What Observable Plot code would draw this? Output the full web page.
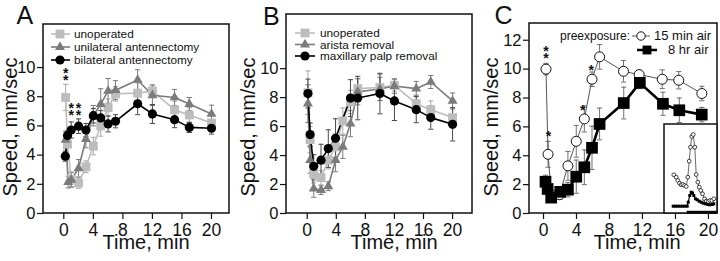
<!DOCTYPE html>
<html><head><meta charset="utf-8">
<script src="https://cdn.jsdelivr.net/npm/d3@7"></script>
<script src="https://cdn.jsdelivr.net/npm/@observablehq/plot@0.6"></script>
<style>
body{margin:0;background:#fff;}
#wrap{position:relative;width:720px;height:261px;overflow:hidden;font-family:"Liberation Sans",Arial,sans-serif;}
.pn{position:absolute;top:0;width:240px;height:261px;}
g[aria-label="x-axis tick label"]{font-size:17.5px;font-family:"Liberation Sans",Arial,sans-serif;fill:#111;}
g[aria-label="y-axis tick label"]{font-size:16.5px;font-family:"Liberation Sans",Arial,sans-serif;fill:#111;}
</style></head>
<body>
<div id="wrap">
  <div class="pn" id="pA" style="left:0"></div>
  <div class="pn" id="pB" style="left:240px"></div>
  <div class="pn" id="pC" style="left:480px"></div>
  <div id="pI" style="position:absolute;left:664px;top:124px;width:53px;height:89px;"></div>
</div>
<script>
// ---------- DATA ----------
// Panel A
const tA_unop = [0.25,0.5,1,2,3,4,5,6,7,10,12,15,17,20];
const A_unop  = [7.95,4.75,2.35,2.08,3.2,4.62,6.0,7.25,8.2,8.25,8.4,7.1,6.75,6.2];
const A_unopE = [0.9,0.8,0.5,0.35,0.4,0.6,0.7,0.6,0.5,0.7,0.4,0.6,0.5,0.5];
const tA_uni  = [0.25,0.6,1,2,3,4,5,6,7,10,12,15,17,20];
const A_uni   = [5.05,2.15,2.3,3.1,5.1,6.7,7.5,8.4,8.45,9.15,8.1,7.95,7.5,6.82];
const A_uniE  = [0.6,0.4,0.5,0.6,0.6,0.7,1.05,0.85,0.65,0.7,0.7,0.55,0.45,0.6];
const tA_bi   = [0.2,0.5,1,2,3,4,5,6,7,10,12,15,17,20];
const A_bi    = [3.93,5.35,5.72,5.98,5.72,6.7,6.55,6.14,6.32,7.52,6.82,6.43,5.9,5.84];
const A_biE   = [0.35,0.3,0.55,0.5,0.45,0.5,0.5,0.55,0.45,0.75,0.65,0.55,0.35,0.4];
// significance marks (time, speed, number of asterisks)
const starsA_t = [0.25,1,2];
const starsA_y = [9.49,7.05,7.05];
const starsA_n = [2,2,2];
// Panel B
const tB      = [0.1,0.4,0.9,1.9,2.9,3.9,4.9,5.95,6.95,10,12,15,17,20];
const B_unop  = [8.34,5.1,2.71,2.48,3.68,4.6,6.39,7.7,8.62,8.7,8.85,7.58,7.17,6.62];
const B_unopE = [1.5,0.9,0.6,0.5,0.6,0.9,0.9,0.8,0.7,0.9,0.4,0.6,0.6,0.7];
const B_ari   = [7.59,3.68,1.72,1.61,1.88,3.68,4.6,6.2,8.4,8.6,8.8,8.62,9.08,7.77];
const B_ariE  = [1.3,0.9,0.6,0.3,0.3,0.8,0.8,0.9,0.9,0.8,0.5,0.5,0.45,0.55];
const tB_palp = [0.1,0.4,0.9,1.9,2.9,3.9,5.95,6.95,10,12,15,17,20];
const B_palp  = [8.28,5.45,3.26,3.68,4.48,5.19,7.97,7.97,8.28,7.77,7.17,6.62,6.16];
const B_palpE = [1.0,0.8,0.8,1.1,1.3,1.35,1.27,1.5,1.4,1.35,0.9,0.8,1.15];
// Panel C
const tC_15   = [0.3,0.55,0.95,1.95,2.96,3.97,4.95,5.88,6.8,9.7,11.6,14.4,16.4,19.2];
const C_15    = [10.0,4.1,1.3,1.3,3.3,5.0,6.55,9.3,10.85,9.85,9.62,9.3,9.23,8.31];
const C_15E   = [0.4,0.9,0.3,0.3,1.0,1.1,0.9,0.5,0.85,0.75,0.3,0.65,0.6,0.5];
const tC_8    = [0.24,0.5,0.93,2.03,2.96,3.97,4.95,5.88,6.8,9.73,11.68,14.48,16.47,19.19];
const C_8     = [2.2,1.7,1.1,1.5,1.65,2.55,3.2,4.55,6.2,7.65,9.05,7.6,7.15,6.85];
const C_8E    = [0.45,0.3,0.2,0.25,0.5,1.15,1.2,1.5,1.1,1.1,0.4,0.8,0.85,0.5];
const starsC_t = [0.29,0.61,4.75,5.77];
const starsC_y = [11.08,5.42,7.27,10.04];
const starsC_n = [2,1,1,1];
// Inset (arbitrary units)
const inT15 = [9.3,11.7,13.3,15,16.7,18.3,20,21.7,23.3,24.7,26,27.3,28.7,30.3,31.7,33.3,34.7,36.3,38,40,41.7,43.7,45.3,47.3,49.3];
const inV15 = [38.7,36.3,33,30.3,28.7,29,28,27,36.3,52.3,66.3,77,79,66.3,39,31.3,26.3,23,19.7,14.7,12.3,12,13,13,14.7];
const inT8  = [8.7,11,13.3,15.7,18,20.3,22.7,23.7,25.3,26.7,28,29.3,31,32.7,34.7,36.7,38.7,41,43.3,45.3,47.7,49.3];
const inV8  = [7.3,7.3,7.3,7.3,7.3,7.3,7.3,11.3,18,21.3,20.5,18,14.7,13.7,12.3,11.3,10.3,9.7,9,8.7,9,9.7];
const inBar = [22.7,53];
// Ticks & labels
const xTicks = [0,4,8,12,16,20];
const yTicksAB = [0,2,4,6,8,10];
const yTicksC = [0,2,4,6,8,10,12];
const legA = ["unoperated","unilateral antennectomy","bilateral antennectomy"];
const legB = ["unoperated","arista removal","maxillary palp removal"];
const legC = ["15 min air","8 hr air"];

// ---------- HELPERS ----------
const FONT = "'Liberation Sans', Arial, sans-serif";
const cap = {draw(ctx, size){ const w = Math.sqrt(size/Math.PI); ctx.moveTo(-w,0); ctx.lineTo(w,0); }};
function rows(t,v,e){ return t.map((d,i)=>({t:d, v:v[i], e:e[i]})); }
function barMarks(d, color){
  return [
    Plot.ruleX(d,{x:"t",y1:r=>r.v-r.e,y2:r=>r.v+r.e,stroke:color,strokeWidth:1}),
    Plot.dot(d,{x:"t",y:r=>r.v+r.e,symbol:cap,r:2.6,stroke:color,strokeWidth:1,fill:"none"}),
    Plot.dot(d,{x:"t",y:r=>r.v-r.e,symbol:cap,r:2.6,stroke:color,strokeWidth:1,fill:"none"})
  ];
}
function stars(t,y,n){
  return Plot.text(t.map((d,i)=>({t:d,y:y[i],n:n[i]})),
    {x:"t",y:"y",text:d=>Array(d.n).fill("*").join("\n"),lineHeight:0.5,fontSize:14,fontWeight:"bold",fill:"#111",dy:4});
}
function addFrame(svg, x, y, w, h){
  d3.select(svg).append("rect").attr("x",x).attr("y",y).attr("width",w).attr("height",h)
    .attr("fill","none").attr("stroke","#111").attr("stroke-width",1.5);
}
function makePanel(opts){
  const {ml,mr,mt,mb,xd,yd,yticks,series,extra} = opts;
  const bars=[], lines=[], dots=[];
  for (const s of series){
    const d = rows(s.t,s.v,s.e);
    bars.push(...barMarks(d,s.bar));
    lines.push(Plot.line(d,{x:"t",y:"v",stroke:s.line,strokeWidth:s.lw}));
    dots.push(Plot.dot(d,{x:"t",y:"v",symbol:s.symbol,r:s.r,fill:s.fill,stroke:s.stroke||"none",strokeWidth:s.sw||1}));
  }
  const svg = Plot.plot({
    width:240, height:261, marginLeft:ml, marginRight:mr, marginTop:mt, marginBottom:mb,
    style:{fontFamily:FONT, fontSize:"16px", color:"#111", background:"transparent", overflow:"visible"},
    x:{domain:xd}, y:{domain:yd},
    marks:[
      ...bars, ...lines, ...dots, ...(extra||[]),
      Plot.axisX({ticks:xTicks, tickSize:6, tickPadding:4, label:null, strokeWidth:1.2, fontSize:17.5}),
      Plot.axisY({ticks:yticks, tickSize:6, tickPadding:2, label:null, strokeWidth:1.2, fontSize:16.5})
    ]
  });
  addFrame(svg, ml, mt, 240-ml-mr, 261-mt-mb);
  return svg;
}
function txt(svg, x, y, s, fs, anchor){
  return d3.select(svg).append("text").attr("x",x).attr("y",y).attr("text-anchor",anchor||"start")
    .attr("font-size",fs).attr("font-family",FONT).attr("fill","#111").text(s);
}
function decorate(svg, {letter, lx, ly, xlabel, xlx, xly, ylabel, ylx, yly}){
  txt(svg, lx, ly, letter, 25, "start");
  txt(svg, xlx, xly, xlabel, 20, "middle");
  d3.select(svg).append("text").attr("transform",`translate(${ylx},${yly}) rotate(-90)`).attr("text-anchor","middle")
    .attr("font-size",20).attr("font-family",FONT).attr("fill","#111").text(ylabel);
}
function legendRow(svg, {y, x1, x2, xm, tx, label, symbol, r, fill, stroke, sw, lineColor, lw, fs}){
  const g = d3.select(svg).append("g");
  g.append("line").attr("x1",x1).attr("x2",x2).attr("y1",y).attr("y2",y).attr("stroke",lineColor).attr("stroke-width",lw);
  g.append("path").attr("transform",`translate(${xm},${y})`).attr("d",d3.symbol().type(symbol).size(r*r*Math.PI)())
    .attr("fill",fill).attr("stroke",stroke||"none").attr("stroke-width",sw||1);
  if (label) txt(svg, tx, y+4.2, label, fs, "start");
}
const symOf = s => s==="square"?d3.symbolSquare:s==="triangle"?d3.symbolTriangle:d3.symbolCircle;

// ---------- STYLES ----------
const stUnop = {symbol:"square", r:5, fill:"#bdbdbd", line:"#bdbdbd", lw:1.6, bar:"#a8a8a8"};
const stTri  = {symbol:"triangle", r:3.7, fill:"#7b7b7b", line:"#7b7b7b", lw:1.6, bar:"#7b7b7b"};
const stBlk  = {symbol:"circle", r:4.6, fill:"#000", line:"#000", lw:1.6, bar:"#4a4a4a"};

// ---------- PANEL A ----------
const svgA = makePanel({ml:43, mr:11, mt:24, mb:48, xd:[-2.75,22.44], yd:[0,12.95], yticks:yTicksAB,
  series:[
    {...stUnop, t:tA_unop, v:A_unop, e:A_unopE},
    {...stTri, t:tA_uni, v:A_uni, e:A_uniE},
    {...stBlk, t:tA_bi, v:A_bi, e:A_biE}
  ], extra:[stars(starsA_t, starsA_y, starsA_n)]});
document.getElementById("pA").append(svgA);
decorate(svgA,{letter:"A", lx:16.5, ly:23.5, xlabel:"Time, min", xlx:146, xly:249, ylabel:"Speed, mm/sec", ylx:17, yly:127});
[[stUnop,34],[stTri,47],[stBlk,60]].forEach(([s,y],i)=>legendRow(svgA,{y, x1:51, x2:70, xm:60, tx:74, label:legA[i], symbol:symOf(s.symbol), r:s.r, fill:s.fill, lineColor:s.line, lw:s.lw, fs:11.8}));

// ---------- PANEL B ----------
const svgB = makePanel({ml:46, mr:8, mt:14, mb:48, xd:[-2.85,22.74], yd:[0,13.74], yticks:yTicksAB,
  series:[
    {...stUnop, t:tB, v:B_unop, e:B_unopE},
    {...stTri, t:tB, v:B_ari, e:B_ariE},
    {...stBlk, t:tB_palp, v:B_palp, e:B_palpE}
  ]});
document.getElementById("pB").append(svgB);
decorate(svgB,{letter:"B", lx:23, ly:25, xlabel:"Time, min", xlx:154, xly:249, ylabel:"Speed, mm/sec", ylx:15, yly:127});
[[stUnop,33],[stTri,44.5],[stBlk,56]].forEach(([s,y],i)=>legendRow(svgB,{y, x1:55, x2:75, xm:65, tx:80, label:legB[i], symbol:symOf(s.symbol), r:s.r, fill:s.fill, lineColor:s.line, lw:s.lw, fs:11.8}));

// ---------- PANEL C ----------
const st15 = {symbol:"circle", r:5, fill:"#fff", stroke:"#111", sw:1, line:"#555", lw:1, bar:"#707070"};
const st8  = {symbol:"square", r:6.6, fill:"#000", line:"#000", lw:2.6, bar:"#707070"};
const svgC = makePanel({ml:49, mr:3, mt:23, mb:48, xd:[-1.7,21.1], yd:[0,13.16], yticks:yTicksC,
  series:[
    {...st15, t:tC_15, v:C_15, e:C_15E},
    {...st8, t:tC_8, v:C_8, e:C_8E}
  ], extra:[stars(starsC_t, starsC_y, starsC_n)]});
document.getElementById("pC").append(svgC);
decorate(svgC,{letter:"C", lx:14.5, ly:23.5, xlabel:"Time, min", xlx:157, xly:249, ylabel:"Speed, mm/sec", ylx:18, yly:127});
txt(svgC, 80, 40, "preexposure:", 12, "start");
legendRow(svgC,{y:36, x1:152, x2:170, xm:161, tx:174, label:legC[0], symbol:d3.symbolCircle, r:4.2, fill:"#fff", stroke:"#111", sw:1, lineColor:"#555", lw:1, fs:13});
legendRow(svgC,{y:50, x1:157, x2:177, xm:167, tx:188, label:legC[1], symbol:d3.symbolSquare, r:5, fill:"#000", lineColor:"#000", lw:2.5, fs:13});

// ---------- INSET ----------
const svgI = Plot.plot({
  width:53, height:89, margin:0, x:{domain:[0,53], axis:null}, y:{domain:[0,89], axis:null},
  style:{background:"#fff", overflow:"visible"},
  marks:[
    Plot.line(inT15.map((t,i)=>({t,v:inV15[i]})),{x:"t",y:"v",stroke:"#444",strokeWidth:0.8}),
    Plot.dot(inT15.map((t,i)=>({t,v:inV15[i]})),{x:"t",y:"v",r:1.9,fill:"#fff",stroke:"#111",strokeWidth:0.8}),
    Plot.line(inT8.map((t,i)=>({t,v:inV8[i]})),{x:"t",y:"v",stroke:"#000",strokeWidth:1.2}),
    Plot.dot(inT8.map((t,i)=>({t,v:inV8[i]})),{x:"t",y:"v",symbol:"square",r:1.7,fill:"#000"}),
    Plot.ruleY([1.2],{x1:inBar[0],x2:inBar[1],stroke:"#000",strokeWidth:3})
  ]
});
addFrame(svgI, 0, 0, 53, 89);
document.getElementById("pI").append(svgI);
</script>
</body></html>
